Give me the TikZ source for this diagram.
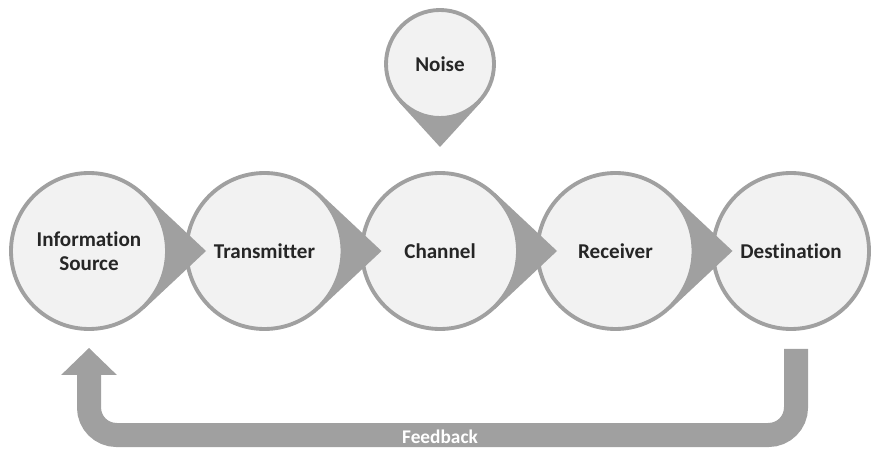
\documentclass[tikz,border=0pt]{standalone}
\usepackage{fontspec}
\setmainfont{Carlito}[Ligatures={NoCommon}]
\usetikzlibrary{calc,arrows.meta}
\definecolor{edgegray}{HTML}{A0A0A0}
\definecolor{facegray}{HTML}{F2F2F2}
\definecolor{textdark}{HTML}{262626}
\begin{document}
\begin{tikzpicture}[
  stage/.style={circle, draw=edgegray, fill=facegray, line width=2.2pt, minimum size=3.12cm,
    inner sep=0pt, align=center, text=textdark, font=\fontsize{12}{14}\selectfont\bfseries},
  wedge/.style={fill=edgegray},
  feedback/.style={draw=edgegray, line width=0.48cm, rounded corners=0.55cm,
    -{Triangle[width=1.08cm,length=0.54cm]}}]
  \useasboundingbox (0,0) rectangle (17.42,8.98);

  \coordinate (c1) at (1.78,3.96);
  \coordinate (c2) at (5.29,3.96);
  \coordinate (c3) at (8.80,3.96);
  \coordinate (c4) at (12.31,3.96);
  \coordinate (c5) at (15.82,3.96);
  \coordinate (cn) at (8.80,7.70);

  % right to left, so each tip lies over the next circle
  \node[stage] (dest) at (c5) {Destination};

  \fill[wedge] ($(c4)+(2.34,0)$) -- ($(c4)+(46.9:1.6)$) -- ($(c4)+(-46.9:1.6)$) -- cycle;
  \node[stage] (recv) at (c4) {Receiver};

  \fill[wedge] ($(c3)+(2.34,0)$) -- ($(c3)+(46.9:1.6)$) -- ($(c3)+(-46.9:1.6)$) -- cycle;
  \node[stage] (chan) at (c3) {Channel};

  \fill[wedge] ($(c2)+(2.34,0)$) -- ($(c2)+(46.9:1.6)$) -- ($(c2)+(-46.9:1.6)$) -- cycle;
  \node[stage] (trans) at (c2) {Transmitter};

  \fill[wedge] ($(c1)+(2.34,0)$) -- ($(c1)+(46.9:1.6)$) -- ($(c1)+(-46.9:1.6)$) -- cycle;
  \node[stage] (info) at (c1) {Information\\Source};

  \fill[wedge] ($(cn)+(0,-1.66)$) -- ($(cn)+(-42.4:1.12)$) -- ($(cn)+(-137.6:1.12)$) -- cycle;
  \node[stage, minimum size=2.16cm] (noise) at (cn) {Noise};

  % feedback loop
  \coordinate (fb) at (8.80,0.28);
  \draw[feedback] ([xshift=0.1cm,yshift=-0.36cm]dest.south) |- (fb) -| ([yshift=-0.34cm]info.south);
  \node[text=white, font=\fontsize{11}{13}\selectfont\bfseries] (fbtext) at (8.80,0.24) {Feedback};
\end{tikzpicture}
\end{document}
